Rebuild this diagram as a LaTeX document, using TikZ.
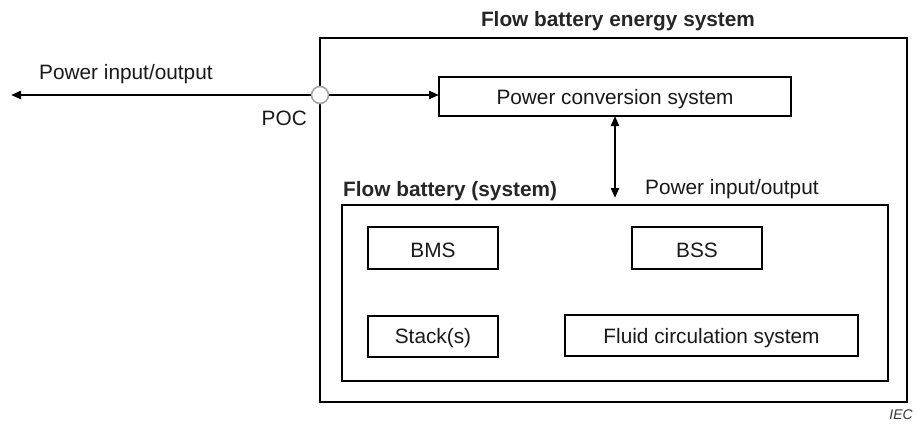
\documentclass[tikz,border=0pt]{standalone}
\usepackage{fontspec}
\setmainfont{Liberation Sans}
\usetikzlibrary{arrows.meta}
\begin{document}
\begin{tikzpicture}[x=1pt,y=-1pt,
  box/.style={draw=black,line width=1.8pt,fill=white},
  lbl/.style={font=\fontsize{20.8}{24}\selectfont,inner sep=0pt,text=black!90},
  blbl/.style={font=\fontsize{20.8}{24}\selectfont\bfseries,inner sep=0pt,text=black!85},
  tip/.style={Triangle[length=10pt,width=8pt]},
  conn/.style={line width=2.2pt,{Triangle[length=10pt,width=8pt]}-{Triangle[length=10pt,width=8pt]}},
  conr/.style={line width=2.2pt,-{Triangle[length=10pt,width=8pt]}}]
\useasboundingbox (0,0) rectangle (917,423);
% outer system box
\draw[box] (320,38) rectangle (907,402);
\node[blbl,anchor=base] (title) at (618,27) {Flow battery energy system};
% PCS
\draw[box] (439,77) rectangle (791,116);
\node[lbl,anchor=base] (pcs) at (615,104) {Power conversion system};
\coordinate (pcsw) at (439,95);
\coordinate (pcss) at (615,116);
% inner battery box
\draw[box] (342,205) rectangle (888,381);
\node[blbl,anchor=base west] (fb) at (343,196) {Flow battery (system)};
\node[lbl,anchor=base west] (pio2) at (645,194) {Power input/output};
\coordinate (fbn) at (615,198);
% components
\draw[box] (368,227) rectangle (498,269);
\node[lbl,anchor=base] (bms) at (433,257) {BMS};
\draw[box] (632,227) rectangle (762,269);
\node[lbl,anchor=base] (bss) at (697,257) {BSS};
\draw[box] (368,316) rectangle (498,357);
\node[lbl,anchor=base] (stack) at (433,343) {Stack(s)};
\draw[box] (565,315) rectangle (858,356);
\node[lbl,anchor=base] (fcs) at (711.5,343) {Fluid circulation system};
% POC and external
\coordinate (ext) at (11,95);
\node[circle,draw=black!35,line width=1.6pt,fill=white,minimum size=17pt,inner sep=0pt] (poc) at (320,95) {};
\draw[conr] (poc.west) -- (ext);
\draw[conr] (poc.east) -- (pcsw);
\draw[conn] (pcss) -- (fbn);
\node[lbl,anchor=base west] (pio1) at (39,79) {Power input/output};
\node[lbl,anchor=base east] (poclbl) at (307,125) {POC};
\node[font=\fontsize{14}{16}\selectfont\itshape,inner sep=0pt,anchor=base east,text=black!80] (iec) at (913,419) {IEC};
\end{tikzpicture}
\end{document}
